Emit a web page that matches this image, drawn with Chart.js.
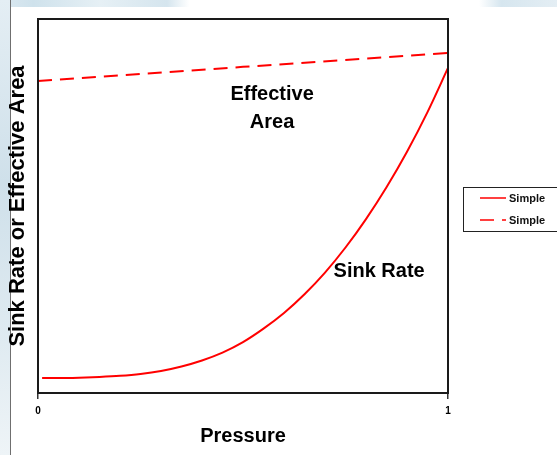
<!DOCTYPE html>
<html>
<head>
<meta charset="utf-8">
<script src="https://cdn.jsdelivr.net/npm/chart.js@4"></script>
<style>
  html, body { margin: 0; padding: 0; background: #fff; }
  #page { position: relative; width: 557px; height: 455px; overflow: hidden; background: #fff; }
  #topStrip { position: absolute; left: 0; top: 0; width: 557px; height: 7px;
    background: linear-gradient(90deg, #dbe8f0 0%, #cfe2ec 6%, #e6f0f5 18%, #d5e5ee 30%, #ffffff 34%, #ffffff 86%, #d6e6ef 90%, #e4eef4 100%); }
  #leftStrip { position: absolute; left: 0; top: 0; width: 10px; height: 455px;
    background: linear-gradient(180deg, #e4eef4 0%, #cfe0ea 40%, #dde9f0 70%, #eef4f7 100%); }
  #leftLine { position: absolute; left: 10px; top: 0; width: 1px; height: 455px; background: #6f6f6f; }
  #chartBox { position: absolute; left: 0; top: 0; width: 557px; height: 455px; }
</style>
</head>
<body>
<div id="page">
  <div id="topStrip"></div>
  <div id="leftStrip"></div>
  <div id="leftLine"></div>
  <div id="chartBox"><canvas id="chart" width="557" height="455"></canvas></div>
</div>
<script>
// values (pressure 0..1, both curves on a 0..1 scale)
const pressure = [0.01, 0.05, 0.10, 0.15, 0.20, 0.25, 0.30, 0.35, 0.40, 0.45, 0.50,
                  0.55, 0.60, 0.65, 0.70, 0.75, 0.80, 0.85, 0.90, 0.95, 1.00];
const sinkRate = [0.040, 0.040, 0.041, 0.043, 0.046, 0.051, 0.059, 0.071, 0.087, 0.108, 0.136,
                  0.172, 0.214, 0.264, 0.322, 0.389, 0.465, 0.550, 0.645, 0.751, 0.869];
const areaPressure = [0, 0.5, 1];
const effectiveArea = [0.834, 0.872, 0.909];
const xTicks = [0, 1];
const seriesNames = ['Simple', 'Simple'];

// curve labels drawn inside the plot
const notes = [
    {text: 'Effective', x: 0.571, y: 0.797},
    {text: 'Area', x: 0.571, y: 0.722},
    {text: 'Sink Rate', x: 0.832, y: 0.326}
];

const FONT = '"Liberation Sans", Arial, sans-serif';

const framePlugin = {
    id: 'frameAndNotes',
    afterDraw(chart) {
        const {ctx, chartArea: a, scales: {x, y}} = chart;
        ctx.save();
        ctx.strokeStyle = '#1a1a1a';
        ctx.lineWidth = 2;
        ctx.strokeRect(a.left, a.top, a.right - a.left, a.bottom - a.top);

        ctx.fillStyle = '#000';
        ctx.font = 'bold 20px ' + FONT;
        ctx.textAlign = 'center';
        ctx.textBaseline = 'middle';
        notes.forEach(n => ctx.fillText(n.text, x.getPixelForValue(n.x), y.getPixelForValue(n.y)));

        // legend box on the right
        ctx.lineWidth = 1;
        ctx.strokeStyle = '#222';
        ctx.strokeRect(463.5, 187.5, 110, 44);
        ctx.font = 'bold 11px ' + FONT;
        ctx.textAlign = 'left';
        chart.data.datasets.forEach((ds, i) => {
            const ly = 198 + i * 22;
            ctx.strokeStyle = ds.borderColor;
            ctx.lineWidth = 1.5;
            ctx.setLineDash(ds.borderDash || []);
            ctx.beginPath();
            ctx.moveTo(480, ly);
            ctx.lineTo(506, ly);
            ctx.stroke();
            ctx.setLineDash([]);
            ctx.fillStyle = '#111';
            ctx.fillText(ds.label, 509, ly + 1);
        });
        ctx.restore();
    }
};

new Chart(document.getElementById('chart').getContext('2d'), {
    type: 'line',
    data: {
        datasets: [{
            label: seriesNames[0],
            data: pressure.map((p, i) => ({x: p, y: sinkRate[i]})),
            borderColor: '#ff0000',
            borderWidth: 2,
            pointRadius: 0,
            cubicInterpolationMode: 'monotone'
        }, {
            label: seriesNames[1],
            data: areaPressure.map((p, i) => ({x: p, y: effectiveArea[i]})),
            borderColor: '#ff0000',
            borderWidth: 2,
            borderDash: [14, 8],
            pointRadius: 0
        }]
    },
    options: {
        responsive: false,
        animation: false,
        events: [],
        layout: {padding: {left: 0, top: 19, right: 109, bottom: 0}},
        plugins: {
            legend: {display: false},
            tooltip: {enabled: false}
        },
        scales: {
            x: {
                type: 'linear',
                min: 0,
                max: 1,
                afterBuildTicks: scale => { scale.ticks = xTicks.map(v => ({value: v})); },
                afterFit: scale => { scale.height = 62; },
                ticks: {color: '#000', font: {family: FONT, size: 10, weight: 'bold'}, padding: 6},
                grid: {drawOnChartArea: false, drawTicks: true, tickLength: 6, color: '#333', lineWidth: 1.5},
                border: {display: false},
                title: {
                    display: true,
                    text: 'Pressure',
                    color: '#000',
                    font: {family: FONT, size: 20, weight: 'bold'},
                    padding: {top: 0, bottom: 7}
                }
            },
            y: {
                min: 0,
                max: 1,
                afterFit: scale => { scale.width = 38; },
                ticks: {display: false},
                grid: {display: false},
                border: {display: false},
                title: {
                    display: true,
                    text: 'Sink Rate or Effective Area',
                    color: '#000',
                    font: {family: FONT, size: 22, weight: 'bold'},
                    padding: {top: 5, bottom: 0}
                }
            }
        }
    },
    plugins: [framePlugin]
});
</script>
</body>
</html>
